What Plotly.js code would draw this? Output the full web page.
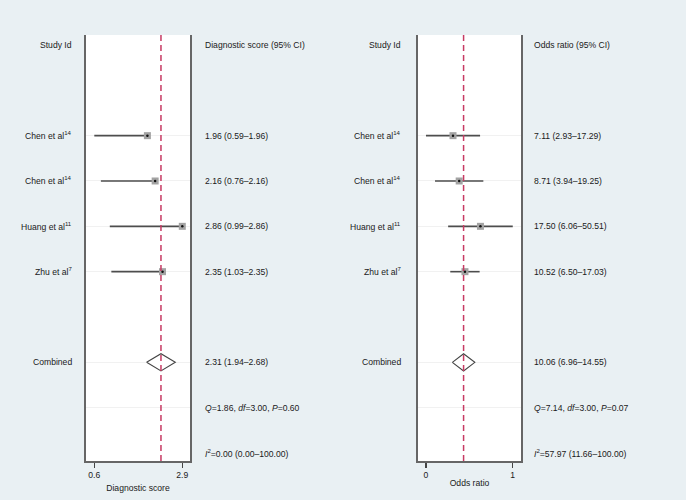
<!DOCTYPE html>
<html>
<head>
<meta charset="utf-8">
<script src="https://cdn.plot.ly/plotly-3.0.1.min.js"></script>
<style>
  body { margin: 0; background: #e9f0f3; }
  #plot { width: 686px; height: 500px; }
</style>
</head>
<body>
<div id="plot"></div>
<script>
// study data
var studies = ['Chen et al<sup>14</sup>', 'Chen et al<sup>14</sup>', 'Huang et al<sup>11</sup>', 'Zhu et al<sup>7</sup>'];

var dsEst = [1.96, 2.16, 2.86, 2.35];
var dsLo  = [0.59, 0.76, 0.99, 1.03];
var dsHi  = [1.96, 2.16, 2.86, 2.35];
var dsComb = [2.31, 1.94, 2.68];          // est, lo, hi
var dsHet  = [1.86, 3.00, 0.60];          // Q, df, P
var dsI2   = [0.00, 0.00, 100.00];

var orEst = [7.11, 8.71, 17.50, 10.52];
var orLo  = [2.93, 3.94, 6.06, 6.50];
var orHi  = [17.29, 19.25, 50.51, 17.03];
var orComb = [10.06, 6.96, 14.55];
var orHet  = [7.14, 3.00, 0.07];
var orI2   = [57.97, 11.66, 100.00];

var studyRows = [2, 3, 4, 5];
var combRow = 7, qRow = 8, i2Row = 9;

var W = 686, H = 500;
var txtFont = {family: 'Liberation Sans, Arial, sans-serif', size: 8.6, color: '#1a1a1a'};

function ci(e, l, h) {
    return e.toFixed(2) + ' (' + l.toFixed(2) + '\u2013' + h.toFixed(2) + ')';
}

function panel(xa, ya, est, lo, hi, comb) {
    var traces = [];
    // CI lines + weight boxes
    traces.push({
        x: est, y: studyRows, xaxis: xa, yaxis: ya,
        type: 'scatter', mode: 'markers', hoverinfo: 'skip',
        marker: {symbol: 'square', size: 7, color: '#a3a3a3'},
        error_x: {
            type: 'data', symmetric: false,
            array: hi.map((h, i) => h - est[i]),
            arrayminus: lo.map((l, i) => est[i] - l),
            width: 0, thickness: 1.6, color: '#4d4d4d'
        }
    });
    traces.push({
        x: est, y: studyRows, xaxis: xa, yaxis: ya,
        type: 'scatter', mode: 'markers', hoverinfo: 'skip',
        marker: {symbol: 'circle', size: 2.5, color: '#111'}
    });
    // pooled diamond
    var h = 0.19;
    traces.push({
        x: [comb[1], comb[0], comb[2], comb[0], comb[1]],
        y: [combRow, combRow - h, combRow, combRow + h, combRow],
        xaxis: xa, yaxis: ya, type: 'scatter', mode: 'lines',
        fill: 'toself', fillcolor: 'white', hoverinfo: 'skip',
        line: {color: '#444', width: 1.1}
    });
    return traces;
}

var data = panel('x', 'y', dsEst, dsLo, dsHi, dsComb)
    .concat(panel('x2', 'y2', orEst, orLo, orHi, orComb));

var yDom = [(H - 461) / H, (H - 35) / H];
var yRange = [9.176, -0.22];

function yax(anchor) {
    return {
        domain: yDom, range: yRange, anchor: anchor,
        showline: true, mirror: true, linecolor: '#666', linewidth: 2,
        tickvals: studyRows.concat([combRow, qRow]),
        showticklabels: false, ticks: '',
        showgrid: true, gridcolor: '#f1f1f1', gridwidth: 1,
        zeroline: false, fixedrange: true
    };
}

function xax(dom, title, tv, tt, type, range, standoff) {
    return {
        domain: dom, type: type, range: range,
        showline: true, linecolor: '#666', linewidth: 1.5,
        ticks: 'outside', ticklen: 5, tickwidth: 1.2, tickcolor: '#444',
        tickvals: tv, ticktext: tt,
        tickfont: {family: txtFont.family, size: 8.6, color: '#1a1a1a'},
        showgrid: false, zeroline: false,
        title: {text: title, font: {family: txtFont.family, size: 8.6, color: '#1a1a1a'}, standoff: standoff}
    };
}

var dsMin = Math.min.apply(null, dsLo), dsMax = Math.max.apply(null, dsHi);
var orMin = Math.min.apply(null, orLo), orMax = Math.max.apply(null, orHi);

var xaxis = xax([86 / W, 190 / W], 'Diagnostic score',
    [dsMin, dsMax], [dsMin.toFixed(1), dsMax.toFixed(1)], 'linear', [0.376, 3.059], 6);
xaxis.anchor = 'y';
var xaxis2 = xax([418 / W, 521 / W], 'Odds ratio',
    [orMin, orMax], ['0', '1'], 'log', [Math.log10(2.255), Math.log10(66.2)], 1);
xaxis2.anchor = 'y2';

var ann = [];
function addText(x, y, yref, text, anchor) {
    ann.push({x: x, y: y, xref: 'paper', yref: yref, text: text,
              xanchor: anchor, yanchor: 'middle', showarrow: false, font: txtFont});
}

// left panel text
addText(73.5 / W, 0, 'y', 'Study Id', 'right');
addText(202.5 / W, 0, 'y', 'Diagnostic score (95% CI)', 'left');
studies.forEach((s, i) => {
    addText(73.5 / W, studyRows[i], 'y', s, 'right');
    addText(202.5 / W, studyRows[i], 'y', ci(dsEst[i], dsLo[i], dsHi[i]), 'left');
});
addText(73.5 / W, combRow, 'y', 'Combined', 'right');
addText(202.5 / W, combRow, 'y', ci(dsComb[0], dsComb[1], dsComb[2]), 'left');
addText(202.5 / W, qRow, 'y', '<i>Q</i>=' + dsHet[0].toFixed(2) + ', <i>df</i>=' + dsHet[1].toFixed(2) + ', <i>P</i>=' + dsHet[2].toFixed(2), 'left');
addText(202.5 / W, i2Row, 'y', '<i>I</i><sup>2</sup>=' + ci(dsI2[0], dsI2[1], dsI2[2]), 'left');

// right panel text
addText(403 / W, 0, 'y2', 'Study Id', 'right');
addText(531.5 / W, 0, 'y2', 'Odds ratio (95% CI)', 'left');
studies.forEach((s, i) => {
    addText(403 / W, studyRows[i], 'y2', s, 'right');
    addText(531.5 / W, studyRows[i], 'y2', ci(orEst[i], orLo[i], orHi[i]), 'left');
});
addText(403 / W, combRow, 'y2', 'Combined', 'right');
addText(531.5 / W, combRow, 'y2', ci(orComb[0], orComb[1], orComb[2]), 'left');
addText(531.5 / W, qRow, 'y2', '<i>Q</i>=' + orHet[0].toFixed(2) + ', <i>df</i>=' + orHet[1].toFixed(2) + ', <i>P</i>=' + orHet[2].toFixed(2), 'left');
addText(531.5 / W, i2Row, 'y2', '<i>I</i><sup>2</sup>=' + ci(orI2[0], orI2[1], orI2[2]), 'left');

var dashStyle = {color: '#c73a63', width: 1.5, dash: '6px,4px'};
var shapes = [
    {type: 'line', xref: 'x', yref: 'y domain', x0: dsComb[0], x1: dsComb[0], y0: 0, y1: 1, line: dashStyle, layer: 'above'},
    {type: 'line', xref: 'x2', yref: 'y2 domain', x0: orComb[0], x1: orComb[0], y0: 0, y1: 1, line: dashStyle, layer: 'above'}
];

var layout = {
    width: W, height: H,
    margin: {l: 0, r: 0, t: 0, b: 0},
    paper_bgcolor: '#e9f0f3', plot_bgcolor: 'white',
    showlegend: false,
    xaxis: xaxis, xaxis2: xaxis2,
    yaxis: yax('x'), yaxis2: yax('x2'),
    annotations: ann, shapes: shapes
};

Plotly.newPlot('plot', data, layout, {staticPlot: true});
</script>
</body>
</html>
